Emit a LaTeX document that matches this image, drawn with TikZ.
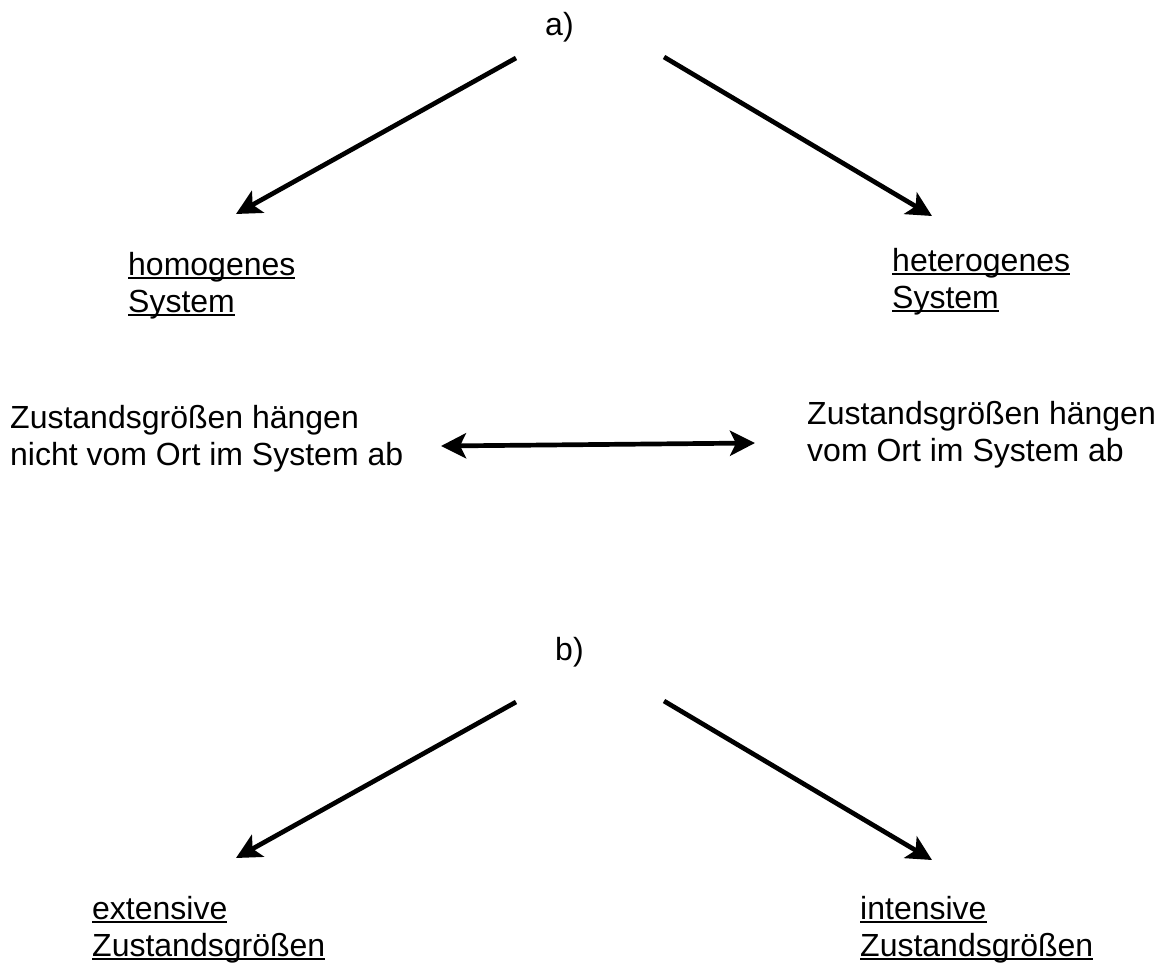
\documentclass[tikz,border=0pt]{standalone}
\usepackage{fontspec}
\setmainfont{Liberation Sans}
\usetikzlibrary{arrows.meta}
\newcommand\ulx[1]{\setbox0\hbox{#1}\rlap{\rule[-3.5pt]{\wd0}{1.9pt}}\box0}
\begin{document}
\begin{tikzpicture}[x=1pt,y=-1pt,
  font=\fontsize{32}{37}\selectfont,
  lbl/.style={anchor=base west, inner sep=0pt},
  tipx/.tip={Stealth[length=25pt,width=25pt,inset=6pt]},
  arr/.style={line width=4.7pt, -tipx},
  darr/.style={line width=4.7pt, tipx-tipx}]
\useasboundingbox (0,0) rectangle (1161,964);
% part a
\node[lbl] (la) at (545,35) {a)};
\node[lbl] (hom) at (128,275) {\begin{tabular}[t]{@{}l@{}}\ulx{homogenes}\\\ulx{System}\end{tabular}};
\node[lbl] (het) at (892,271) {\begin{tabular}[t]{@{}l@{}}\ulx{heterogenes}\\\ulx{System}\end{tabular}};
\node[lbl] (zl) at (10,428) {\begin{tabular}[t]{@{}l@{}}Zustandsgrößen hängen\\nicht vom Ort im System ab\end{tabular}};
\node[lbl] (zr) at (807,424) {\begin{tabular}[t]{@{}l@{}}Zustandsgrößen hängen\\vom Ort im System ab\end{tabular}};
\coordinate (a1s) at (516,58);
\coordinate (a1e) at (236,214);
\coordinate (a2s) at (664,57);
\coordinate (a2e) at (932,216);
\coordinate (dl) at (441,446);
\coordinate (dr) at (755,443);
\draw[arr] (a1s) -- (a1e);
\draw[arr] (a2s) -- (a2e);
\draw[darr] (dl) -- (dr);
% part b
\node[lbl] (lb) at (555,660) {b)};
\node[lbl] (ext) at (92,919) {\begin{tabular}[t]{@{}l@{}}\ulx{extensive}\\\ulx{Zustandsgrößen}\end{tabular}};
\node[lbl] (int) at (860,919) {\begin{tabular}[t]{@{}l@{}}\ulx{intensive}\\\ulx{Zustandsgrößen}\end{tabular}};
\coordinate (b1s) at (516,702);
\coordinate (b1e) at (236,858);
\coordinate (b2s) at (664,701);
\coordinate (b2e) at (932,860);
\draw[arr] (b1s) -- (b1e);
\draw[arr] (b2s) -- (b2e);
\end{tikzpicture}
\end{document}
